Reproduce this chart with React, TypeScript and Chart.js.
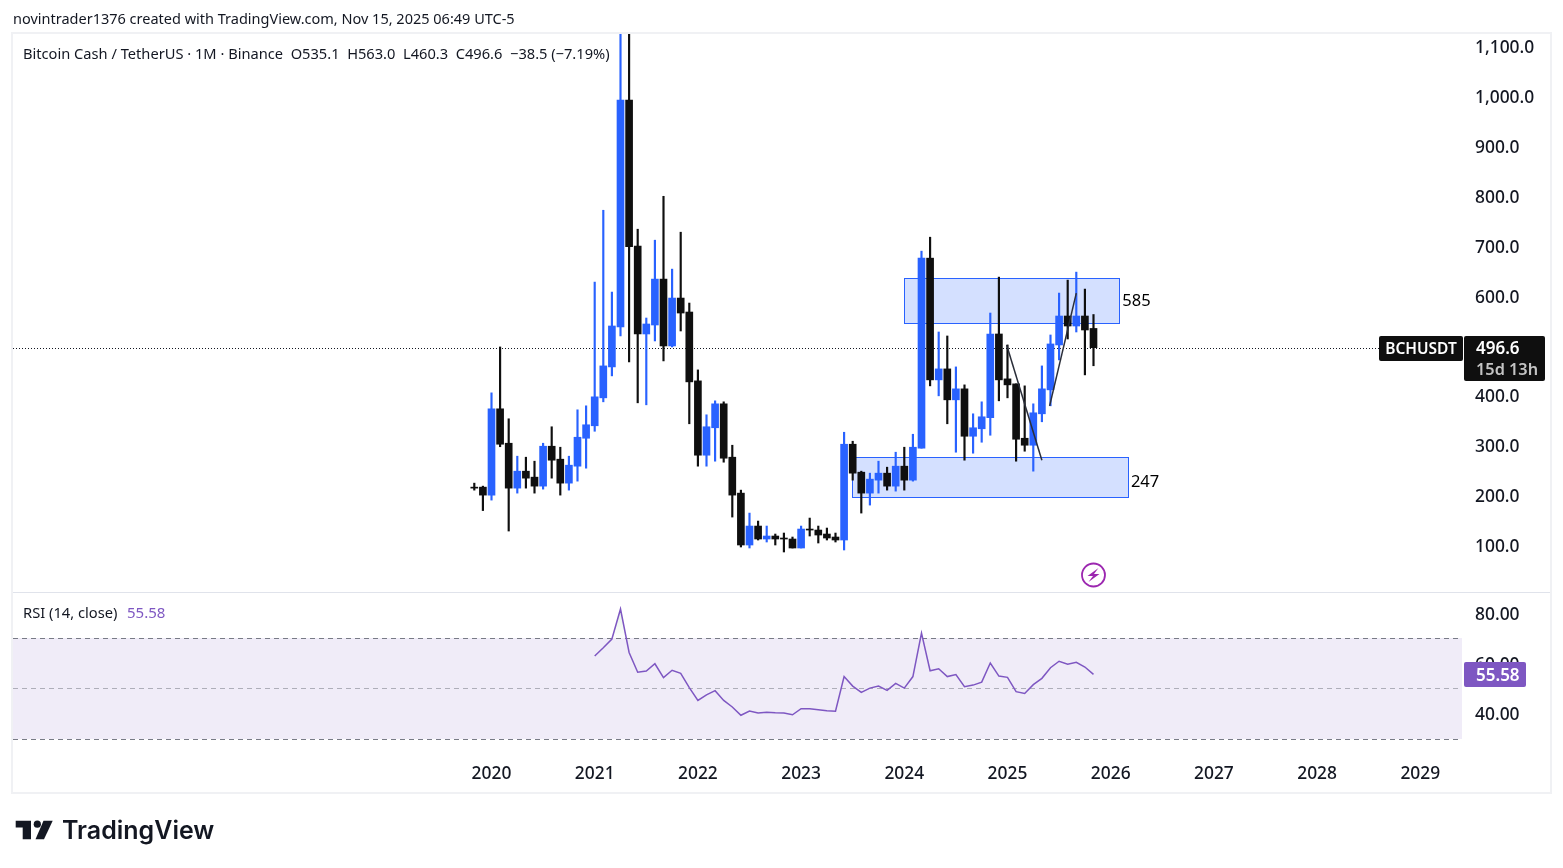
import React, { useEffect, useRef } from "react";
import { Chart, registerables } from "chart.js";

Chart.register(...registerables);

const opens = [217,217,201,374,305,215,249,237,219,299,273,225,259,315,340,396,458,538,993,700,524,542,634,500,596,568,430,281,336,384,277,205,101,139,113,119,115,113,95,133,131,123,117,111,303,247,205,231,245,219,259,231,295,676,432,454,392,414,319,334,356,524,434,424,315,301,364,412,502,560,540,560,535.1];
const highs = [225,219,406,498,354,279,277,269,305,338,297,279,372,380,628,772,608,1300,1300,734,556,712,800,654,728,586,452,362,390,388,301,211,165,149,139,123,125,117,139,155,139,135,125,327,309,249,245,269,257,287,297,323,690,718,528,520,458,422,364,388,566,638,502,424,420,384,460,522,606,632,648,614,563];
const lows = [211,170,191,298,129,205,215,205,213,235,201,211,229,255,329,388,440,520,468,386,382,510,470,498,530,344,259,259,269,267,157,97,95,111,107,101,87,95,95,119,105,111,107,91,231,165,181,205,211,209,211,229,295,420,400,344,287,271,285,307,321,390,396,269,289,249,348,380,472,514,528,442,460.3];
const closes = [215,201,374,303,215,249,235,219,299,271,225,261,317,342,398,460,540,993,699,524,544,634,500,596,566,428,281,338,384,275,201,101,139,113,119,113,113,95,133,131,121,115,111,303,245,205,233,245,219,259,231,297,676,432,454,392,414,319,336,358,524,432,422,313,301,366,414,504,560,540,560,532,496.6];
const rsiStartIndex = 14;
const rsiValues = [62.9,66.2,69.65,81.6,64.3,56.4,56.9,59.8,54.3,57.2,56,50.3,45.2,47.4,49.1,45.2,42.6,39.3,41,40.2,40.5,40.3,40.2,39.5,41.9,41.9,41.5,41.1,40.9,54.7,50.9,48.4,50.1,50.9,49.2,52,50.1,54.7,72,57,57.8,54.7,55.5,50.7,51.3,52.5,60.1,54.9,54.4,48.7,48,51.5,54,58.2,60.8,59.6,60.4,58.5,55.58];
const yearTickIndex = [2,14,26,38,50,62,74,86,98,110];
const yearLabels = ["2020","2021","2022","2023","2024","2025","2026","2027","2028","2029"];
const priceTicks = [100,200,300,400,500,600,700,800,900,1000,1100];
const hiddenPriceTick = 500;
const rsiTicks = [40,60,80];
const rsiLevels = [70,50,30];
const zoneUpper = { x0: 50, x1: 75, top: 636, bottom: 546, label: "585" };
const zoneLower = { x0: 43.9, x1: 76, top: 276.5, bottom: 197.5, label: "247" };
const trendDown = [{ x: 61.9, y: 502 }, { x: 66, y: 271 }];
const trendUp = [{ x: 66.9, y: 380 }, { x: 70, y: 606 }];
const markerIndex = 72;
const lastPrice = 496.6;
const lastRsi = 55.58;
const headerText = "novintrader1376 created with TradingView.com, Nov 15, 2025 06:49 UTC-5";
const legendText = "Bitcoin Cash / TetherUS · 1M · Binance  O535.1  H563.0  L460.3  C496.6  −38.5 (−7.19%)";

const FONT = '"Noto Sans", sans-serif';
const BLUE = "#2962ff";
const BLACK = "#0f0f0f";
const PURPLE = "#7e57c2";
const TEXT = "#131722";

const wickData = highs.map((h, i) => ({ x: i, y: [lows[i], h] }));
const bodyData = opens.map((o, i) => ({ x: i, y: [Math.min(o, closes[i]), Math.max(o, closes[i])] }));
const candleColors = opens.map((o, i) => (closes[i] >= o ? BLUE : BLACK));
const rsiData = rsiValues.map((v, i) => ({ x: rsiStartIndex + i, y: v }));

function roundRect(ctx: any, x: number, y: number, w: number, h: number, r: number, fill: string) {
  ctx.beginPath();
  ctx.roundRect(x, y, w, h, r);
  ctx.fillStyle = fill;
  ctx.fill();
}

function text(ctx: any, s: string, x: number, y: number, font: string, color: string, align = "left") {
  ctx.font = font;
  ctx.fillStyle = color;
  ctx.textAlign = align;
  ctx.textBaseline = "middle";
  ctx.fillText(s, x, y);
}

const backdrop = {
  id: "backdrop",
  beforeDatasetsDraw(chart: any) {
    const { ctx, chartArea: a, scales } = chart;
    const { x, y, y2 } = scales;
    ctx.save();
    // RSI band
    ctx.fillStyle = "rgba(126,87,194,0.115)";
    const yTop = Math.round(y2.getPixelForValue(rsiLevels[0]));
    const yBot = Math.round(y2.getPixelForValue(rsiLevels[2]));
    ctx.fillRect(a.left, yTop, a.right - a.left, yBot - yTop);
    rsiLevels.forEach((lv, i) => {
      const py = Math.round(y2.getPixelForValue(lv)) + 0.5;
      ctx.beginPath();
      ctx.setLineDash([5, 4]);
      ctx.strokeStyle = i === 1 ? "rgba(120,123,134,0.55)" : "#787b86";
      ctx.lineWidth = 1;
      ctx.moveTo(a.left, py);
      ctx.lineTo(a.right, py);
      ctx.stroke();
    });
    ctx.setLineDash([]);
    // zones
    [zoneUpper, zoneLower].forEach((z) => {
      const l = Math.round(x.getPixelForValue(z.x0)) + 0.5;
      const r = Math.round(x.getPixelForValue(z.x1)) + 0.5;
      const t = Math.round(y.getPixelForValue(z.top)) + 0.5;
      const b = Math.round(y.getPixelForValue(z.bottom)) + 0.5;
      ctx.fillStyle = "rgba(41,98,255,0.2)";
      ctx.fillRect(l, t, r - l, b - t);
      ctx.strokeStyle = BLUE;
      ctx.lineWidth = 1;
      ctx.strokeRect(l, t, r - l, b - t);
    });
    // last price line
    const lp = Math.round(y.getPixelForValue(lastPrice)) + 0.5;
    ctx.beginPath();
    ctx.setLineDash([1, 2]);
    ctx.strokeStyle = "#131722";
    ctx.lineWidth = 1;
    ctx.moveTo(a.left, lp);
    ctx.lineTo(1380, lp);
    ctx.stroke();
    ctx.restore();
  },
};

const overlay = {
  id: "overlay",
  afterDraw(chart: any) {
    const { ctx, chartArea: a, scales } = chart;
    const { x, y, y2 } = scales;
    ctx.save();
    // frame
    ctx.strokeStyle = "#f0f1f4";
    ctx.lineWidth = 2;
    ctx.strokeRect(a.left - 1, a.top - 1, 1550 - a.left + 2, 793 - a.top + 1);
    ctx.fillStyle = "#e0e3eb";
    ctx.fillRect(a.left, Math.round(y2.top), 1550 - a.left, 1);
    // header
    text(ctx, headerText, 13, 20, `14.5px ${FONT}`, TEXT);
    text(ctx, legendText, 23, 54.5, `14.65px ${FONT}`, TEXT);
    text(ctx, "RSI (14, close)", 23, 613.5, `14.7px ${FONT}`, TEXT);
    text(ctx, lastRsi.toFixed(2), 127, 613.5, `15px ${FONT}`, PURPLE);
    // zone labels
    text(ctx, zoneUpper.label, x.getPixelForValue(zoneUpper.x1) + 3, y.getPixelForValue(590), `16.5px ${FONT}`, "#000000");
    text(ctx, zoneLower.label, x.getPixelForValue(zoneLower.x1) + 3, y.getPixelForValue(226), `16.5px ${FONT}`, "#000000");
    // marker
    const mx = x.getPixelForValue(markerIndex);
    const my = 575;
    ctx.beginPath();
    ctx.arc(mx, my, 11.5, 0, Math.PI * 2);
    ctx.strokeStyle = "#9c27b0";
    ctx.lineWidth = 1.8;
    ctx.stroke();
    ctx.beginPath();
    ctx.moveTo(mx + 5, my - 7);
    ctx.lineTo(mx - 6, my + 1);
    ctx.lineTo(mx - 0.5, my + 1);
    ctx.lineTo(mx - 5, my + 7);
    ctx.lineTo(mx + 6, my - 1);
    ctx.lineTo(mx + 0.5, my - 1);
    ctx.closePath();
    ctx.fillStyle = "#9c27b0";
    ctx.fill();
    // price badges
    const lpy = y.getPixelForValue(lastPrice);
    const top = Math.round(lpy) - 12;
    roundRect(ctx, 1379, top, 84, 25, 2, BLACK);
    text(ctx, "BCHUSDT", 1421, top + 13.5, `600 15.5px ${FONT}`, "#ffffff", "center");
    roundRect(ctx, 1464, top, 81, 45, 2, BLACK);
    text(ctx, lastPrice.toFixed(1), 1476, top + 13.5, `600 17px ${FONT}`, "#ffffff");
    text(ctx, "15d 13h", 1476, top + 34, `600 16.3px ${FONT}`, "#c4c4c4");
    // rsi badge
    const rpy = Math.round(y2.getPixelForValue(lastRsi));
    roundRect(ctx, 1464, rpy - 12, 62, 25, 2, PURPLE);
    text(ctx, lastRsi.toFixed(2), 1476, rpy + 2, `600 17px ${FONT}`, "#ffffff");
    // logo
    ctx.fillStyle = "#131722";
    ctx.beginPath();
    ctx.moveTo(15.7, 820.7);
    ctx.lineTo(31, 820.7);
    ctx.lineTo(31, 839.3);
    ctx.lineTo(22.7, 839.3);
    ctx.lineTo(22.7, 827.5);
    ctx.lineTo(15.7, 827.5);
    ctx.closePath();
    ctx.fill();
    ctx.beginPath();
    ctx.arc(37.3, 824.2, 3.6, 0, Math.PI * 2);
    ctx.fill();
    ctx.beginPath();
    ctx.moveTo(43.5, 820.7);
    ctx.lineTo(52.7, 820.7);
    ctx.lineTo(44, 839.3);
    ctx.lineTo(35.5, 839.3);
    ctx.closePath();
    ctx.fill();
    ctx.textBaseline = "alphabetic";
    ctx.font = `600 25px Inter, ${FONT}`;
    ctx.textAlign = "left";
    ctx.fillText("TradingView", 62, 839.3);
    ctx.restore();
  },
};

export default function App() {
  const ref = useRef<HTMLCanvasElement | null>(null);
  useEffect(() => {
    if (!ref.current) return;
    const ctx2d = ref.current.getContext("2d")!;
    const greenFill = ctx2d.createLinearGradient(0, 606, 0, 638);
    greenFill.addColorStop(0, "rgba(76,175,80,0.16)");
    greenFill.addColorStop(1, "rgba(76,175,80,0.01)");
    const tickFont = { family: FONT, size: 17.4, weight: 500 };
    const yTickFont = { family: FONT, size: 17.4, weight: 500, lineHeight: 0.18 };
    const chart = new Chart(ref.current, {
      type: "bar",
      data: {
        datasets: [
          { type: "line", data: trendDown, xAxisID: "x", yAxisID: "y", borderColor: "#2a2e39", borderWidth: 1.5, pointRadius: 0, order: 0 },
          { type: "line", data: trendUp, xAxisID: "x", yAxisID: "y", borderColor: "#2a2e39", borderWidth: 1.5, pointRadius: 0, order: 0 },
          { type: "bar", data: bodyData, xAxisID: "x", yAxisID: "y", backgroundColor: candleColors, borderWidth: 0, barThickness: 7, grouped: false, order: 1 },
          { type: "bar", data: wickData, xAxisID: "x", yAxisID: "y", backgroundColor: candleColors, borderWidth: 0, barThickness: 1.5, grouped: false, order: 2 },
          {
            type: "line", data: rsiData, xAxisID: "x", yAxisID: "y2", borderColor: PURPLE, borderWidth: 1.5, pointRadius: 0, order: 3, tension: 0,
            fill: { target: { value: rsiLevels[0] }, above: greenFill, below: "rgba(0,0,0,0)" },
          },
        ] as any,
      },
      options: {
        animation: false,
        responsive: false,
        devicePixelRatio: 1,
        layout: { padding: { left: 13, right: 13, top: 34, bottom: 75 } },
        plugins: { legend: { display: false }, tooltip: { enabled: false }, title: { display: false } },
        scales: {
          x: {
            type: "linear",
            offset: false,
            min: -53.64,
            max: 114.85,
            grid: { display: false, drawTicks: false },
            border: { display: false },
            afterBuildTicks: (s: any) => { s.ticks = yearTickIndex.map((v) => ({ value: v })); },
            afterFit: (s: any) => { s.height = 39; },
            ticks: {
              autoSkip: false, maxRotation: 0, padding: 10, color: TEXT, font: tickFont,
              callback: (v: any) => yearLabels[yearTickIndex.indexOf(Number(v))],
            },
          },
          y: {
            type: "linear",
            position: "right",
            stack: "panes",
            stackWeight: 558,
            weight: 0,
            min: 6.8,
            max: 1125.3,
            grid: { display: false, drawTicks: false },
            border: { display: false },
            afterBuildTicks: (s: any) => { s.ticks = priceTicks.filter((v) => v !== hiddenPriceTick).map((v) => ({ value: v })); },
            afterFit: (s: any) => { s.width = 88; },
            ticks: {
              padding: 13, color: TEXT, font: yTickFont, autoSkip: false,
              callback: (v: any) => ["", Number(v).toLocaleString("en-US", { minimumFractionDigits: 1, maximumFractionDigits: 1 })],
            },
          },
          y2: {
            type: "linear",
            position: "right",
            stack: "panes",
            stackWeight: 162,
            weight: 1,
            min: 23.88,
            max: 88.36,
            grid: { display: false, drawTicks: false },
            border: { display: false },
            afterBuildTicks: (s: any) => { s.ticks = rsiTicks.map((v) => ({ value: v })); },
            afterFit: (s: any) => { s.width = 88; },
            ticks: {
              padding: 13, color: TEXT, font: yTickFont, autoSkip: false,
              callback: (v: any) => ["", Number(v).toFixed(2)],
            },
          },
        },
      } as any,
      plugins: [backdrop, overlay],
    });
    return () => chart.destroy();
  }, []);
  return (
    <div style={{ position: "absolute", left: 0, top: 0, width: 1563, height: 868, background: "#ffffff" }}>
      <canvas ref={ref} width={1563} height={868} style={{ display: "block" }} />
    </div>
  );
}
